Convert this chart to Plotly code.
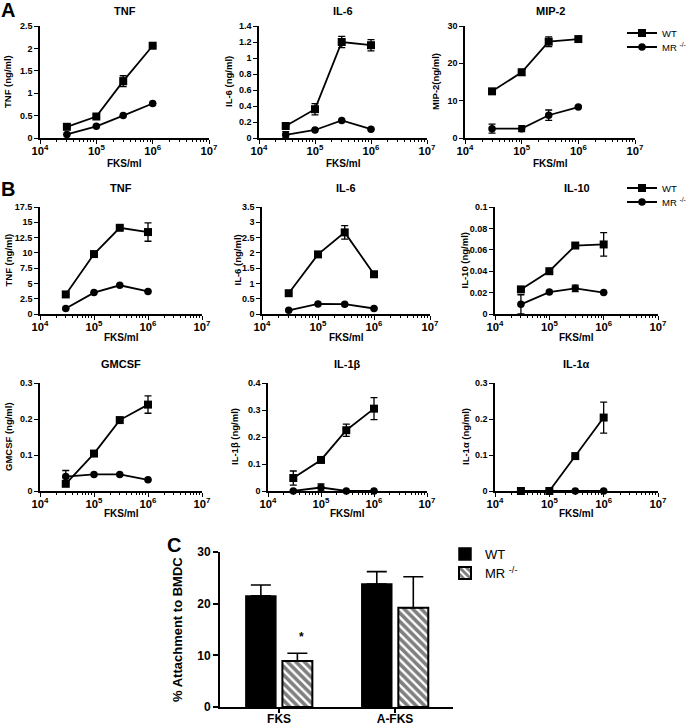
import plotly.graph_objects as go

W, H = 691, 725
FONT = "Liberation Sans, Arial, sans-serif"

# ---------------- data ----------------
dose = [3e4, 1e5, 3e5, 1e6]

a_tnf_wt = [0.25, 0.48, 1.27, 2.06]
a_tnf_wt_err = [0.0, 0.0, 0.12, 0.0]
a_tnf_mr = [0.08, 0.26, 0.50, 0.77]
a_tnf_mr_err = [0.0, 0.0, 0.0, 0.0]

a_il6_wt = [0.15, 0.36, 1.20, 1.16]
a_il6_wt_err = [0.0, 0.07, 0.07, 0.07]
a_il6_mr = [0.04, 0.10, 0.22, 0.11]
a_il6_mr_err = [0.04, 0.0, 0.0, 0.0]

a_mip2_wt = [12.5, 17.6, 25.8, 26.5]
a_mip2_wt_err = [0.0, 0.8, 1.3, 0.0]
a_mip2_mr = [2.5, 2.5, 6.1, 8.3]
a_mip2_mr_err = [1.2, 0.8, 1.4, 0.0]

b_tnf_wt = [3.2, 9.8, 14.1, 13.4]
b_tnf_wt_err = [0.0, 0.0, 0.4, 1.5]
b_tnf_mr = [0.9, 3.5, 4.7, 3.7]
b_tnf_mr_err = [0.0, 0.0, 0.0, 0.0]

b_il6_wt = [0.68, 1.95, 2.67, 1.30]
b_il6_wt_err = [0.0, 0.0, 0.22, 0.0]
b_il6_mr = [0.12, 0.33, 0.32, 0.18]
b_il6_mr_err = [0.0, 0.0, 0.0, 0.0]

b_il10_wt = [0.023, 0.040, 0.064, 0.065]
b_il10_wt_err = [0.0, 0.0, 0.0, 0.011]
b_il10_mr = [0.009, 0.0205, 0.024, 0.020]
b_il10_mr_err = [0.009, 0.0, 0.003, 0.0]

b_gmcsf_wt = [0.020, 0.104, 0.197, 0.240]
b_gmcsf_wt_err = [0.0, 0.0, 0.0, 0.024]
b_gmcsf_mr = [0.040, 0.046, 0.046, 0.031]
b_gmcsf_mr_err = [0.017, 0.0, 0.0, 0.0]

b_il1b_wt = [0.048, 0.115, 0.225, 0.305]
b_il1b_wt_err = [0.026, 0.0, 0.023, 0.041]
b_il1b_mr = [0.0, 0.013, 0.0, 0.0]
b_il1b_mr_err = [0.0, 0.013, 0.0, 0.0]

b_il1a_wt = [0.0, 0.0, 0.097, 0.204]
b_il1a_wt_err = [0.0, 0.0, 0.0, 0.043]
b_il1a_mr = [0.0, 0.0, 0.0, 0.0]
b_il1a_mr_err = [0.0, 0.0, 0.0, 0.0]

c_groups = ["FKS", "A-FKS"]
c_wt = [21.5, 23.8]
c_wt_err = [2.1, 2.4]
c_mr = [8.9, 19.2]
c_mr_err = [1.5, 6.0]

series_names = ["WT", "MR <sup>-/-</sup>"]

# ------------- panel specs -------------
panels = [
    ("TNF", "TNF (ng/ml)", a_tnf_wt, a_tnf_wt_err, a_tnf_mr, a_tnf_mr_err, 2.5, 0.5, ("legend", "legend4")),
    ("IL-6", "IL-6 (ng/ml)", a_il6_wt, a_il6_wt_err, a_il6_mr, a_il6_mr_err, 1.4, 0.2, None),
    ("MIP-2", "MIP-2(ng/ml)", a_mip2_wt, a_mip2_wt_err, a_mip2_mr, a_mip2_mr_err, 30, 10, None),
    ("TNF", "TNF (ng/ml)", b_tnf_wt, b_tnf_wt_err, b_tnf_mr, b_tnf_mr_err, 17.5, 2.5, ("legend2", "legend5")),
    ("IL-6", "IL-6 (ng/ml)", b_il6_wt, b_il6_wt_err, b_il6_mr, b_il6_mr_err, 3.5, 0.5, None),
    ("IL-10", "IL-10 (ng/ml)", b_il10_wt, b_il10_wt_err, b_il10_mr, b_il10_mr_err, 0.1, 0.02, None),
    ("GMCSF", "GMCSF (ng/ml)", b_gmcsf_wt, b_gmcsf_wt_err, b_gmcsf_mr, b_gmcsf_mr_err, 0.3, 0.1, None),
    ("IL-1β", "IL-1β (ng/ml)", b_il1b_wt, b_il1b_wt_err, b_il1b_mr, b_il1b_mr_err, 0.4, 0.1, None),
    ("IL-1α", "IL-1α (ng/ml)", b_il1a_wt, b_il1a_wt_err, b_il1a_mr, b_il1a_mr_err, 0.3, 0.1, None),
]

# pixel boxes in page coords: (x0, x1, ytop, ybottom), y-title x, title y, x-title y
boxes = [
    (40, 209, 26, 138, 8, 11, 163), (259, 427, 26, 138, 229, 11, 163), (465, 635, 26, 138, 436, 11, 163),
    (40, 202, 207, 314, 8, 188, 337), (262, 430, 207, 314, 237, 188, 337), (495, 658, 207, 314, 464, 188, 337),
    (40, 202, 383, 491, 8, 364, 513), (268, 427, 383, 491, 234, 364, 513), (495, 658, 383, 491, 465, 364, 513),
]


def fx(p):
    return p / W


def fy(p):
    return 1 - p / H


fig = go.Figure()
layout = {}
annotations = []
tickfont = dict(family=FONT, size=9, color="black", weight="bold")
labfont = dict(family=FONT, size=9.5, color="black", weight="bold")

for i, (title, ylab, wt, wte, mr, mre, ymax, dt, legs) in enumerate(panels):
    n = i + 1
    xa = "x" if n == 1 else f"x{n}"
    ya = "y" if n == 1 else f"y{n}"
    xk = "xaxis" if n == 1 else f"xaxis{n}"
    yk = "yaxis" if n == 1 else f"yaxis{n}"
    x0, x1, yt, yb, ytx, tty, xty = boxes[i]
    for vals, errs, sym, name, k in ((wt, wte, "square", series_names[0], 0),
                                     (mr, mre, "circle", series_names[1], 1)):
        fig.add_trace(go.Scatter(
            x=dose, y=vals, xaxis=xa, yaxis=ya, mode="lines+markers",
            name=name, showlegend=legs is not None, legend=legs[k] if legs else "legend",
            line=dict(color="black", width=1.8),
            marker=dict(symbol=sym, size=8 if sym == "square" else 7.5, color="black"),
            error_y=dict(type="data", array=errs, visible=True, color="black",
                         thickness=1.3, width=3.5),
            cliponaxis=False,
        ))
    layout[xk] = dict(
        domain=[fx(x0), fx(x1)], anchor=ya, type="log", range=[4, 7], dtick=1,
        exponentformat="power", showline=True, linecolor="black", linewidth=1.6,
        ticks="outside", ticklen=4, tickwidth=1.3, tickcolor="black", showgrid=False,
        zeroline=False, tickfont=tickfont, automargin=False, ticklabelstandoff=-2,
        minor=dict(ticks="outside", ticklen=2.5, tickwidth=1, tickcolor="black", dtick="D1", showgrid=False),
    )
    layout[yk] = dict(
        domain=[fy(yb), fy(yt)], anchor=xa, range=[0, ymax], dtick=dt, tick0=0,
        showline=True, linecolor="black", linewidth=1.6, ticks="outside", ticklen=4,
        tickwidth=1.3, tickcolor="black", showgrid=False, zeroline=False, tickfont=tickfont,
        automargin=False,
    )
    annotations.append(dict(
        text=title, x=fx((x0 + x1) / 2), y=fy(tty), xref="paper", yref="paper",
        showarrow=False, xanchor="center", yanchor="middle",
        font=dict(family=FONT, size=11, color="black", weight="bold"),
    ))
    annotations.append(dict(
        text=ylab, x=fx(ytx), y=fy((yt + yb) / 2), xref="paper", yref="paper", textangle=-90,
        showarrow=False, xanchor="center", yanchor="middle", font=labfont,
    ))
    annotations.append(dict(
        text="FKS/ml", x=fx((x0 + x1) / 2), y=fy(xty), xref="paper", yref="paper",
        showarrow=False, xanchor="center", yanchor="middle",
        font=dict(family=FONT, size=10, color="black", weight="bold"),
    ))

# ---------------- panel C ----------------
fig.add_trace(go.Bar(
    x=c_groups, y=c_wt, name=series_names[0], xaxis="x10", yaxis="y10", legend="legend3",
    marker=dict(color="black", line=dict(color="black", width=1.5)),
    error_y=dict(type="data", array=c_wt_err, arrayminus=[0] * len(c_wt_err), symmetric=False,
                 color="black", thickness=1.6, width=10),
))
fig.add_trace(go.Bar(
    x=c_groups, y=c_mr, name=series_names[1], xaxis="x10", yaxis="y10", legend="legend6",
    marker=dict(color="white", line=dict(color="black", width=2),
                pattern=dict(shape="\\", fgcolor="black", bgcolor="white", size=6, solidity=0.6)),
    error_y=dict(type="data", array=c_mr_err, arrayminus=[0] * len(c_mr_err), symmetric=False,
                 color="black", thickness=1.6, width=10),
))
layout["xaxis10"] = dict(
    domain=[fx(220), fx(453)], anchor="y10", type="category", range=[-0.51, 1.5],
    showline=True, linecolor="black", linewidth=2, ticks="outside", ticklen=4, tickwidth=1.6,
    tickcolor="black", showgrid=False, zeroline=False, automargin=False, ticklabelstandoff=-4,
    tickfont=dict(family=FONT, size=12, color="black", weight="bold"),
)
layout["yaxis10"] = dict(
    domain=[fy(707), fy(552)], anchor="x10", range=[0, 30], dtick=10,
    showline=True, linecolor="black", linewidth=2, ticks="outside", ticklen=5, tickwidth=1.6,
    tickcolor="black", showgrid=False, zeroline=False, automargin=False,
    tickfont=dict(family=FONT, size=12, color="black", weight="bold"),
)
annotations.append(dict(text="% Attachment to BMDC", x=fx(177), y=fy(630), xref="paper", yref="paper",
                        textangle=-90, showarrow=False, xanchor="center", yanchor="middle",
                        font=dict(family=FONT, size=13, color="black", weight="bold")))
annotations.append(dict(text="*", x=0.19, y=c_mr[0] + c_mr_err[0] + 1.5, xref="x10", yref="y10",
                        showarrow=False, yanchor="bottom",
                        font=dict(family=FONT, size=12, color="black", weight="bold")))

for txt, px, py in (("A", 8, 10), ("B", 8, 189), ("C", 174, 545)):
    annotations.append(dict(text=txt, x=fx(px), y=fy(py), xref="paper", yref="paper",
                            showarrow=False, xanchor="center", yanchor="middle",
                            font=dict(family=FONT, size=20, color="black", weight="bold")))

legfont = dict(family=FONT, size=9.5, color="black")
legC = dict(family=FONT, size=13, color="black")


def leg(px, py, font):
    return dict(x=fx(px), y=fy(py), xanchor="left", yanchor="middle", font=font,
                bgcolor="rgba(0,0,0,0)", itemwidth=30)


fig.update_layout(
    width=W, height=H, margin=dict(l=0, r=0, t=0, b=0, autoexpand=False),
    paper_bgcolor="white", plot_bgcolor="white", barmode="group",
    bargap=0.37, bargroupgap=0.18,
    font=dict(family=FONT, color="black"),
    annotations=annotations,
    legend=leg(622, 33, legfont),
    legend4=leg(622, 47, legfont),
    legend2=leg(622, 188, legfont),
    legend5=leg(622, 202, legfont),
    legend3=leg(445, 554, legC),
    legend6=leg(445, 573, legC),
    **layout,
)

fig.write_html("out.html", config={"displayModeBar": False},
               post_script="document.body.style.margin='0';document.body.style.overflow='hidden';")
